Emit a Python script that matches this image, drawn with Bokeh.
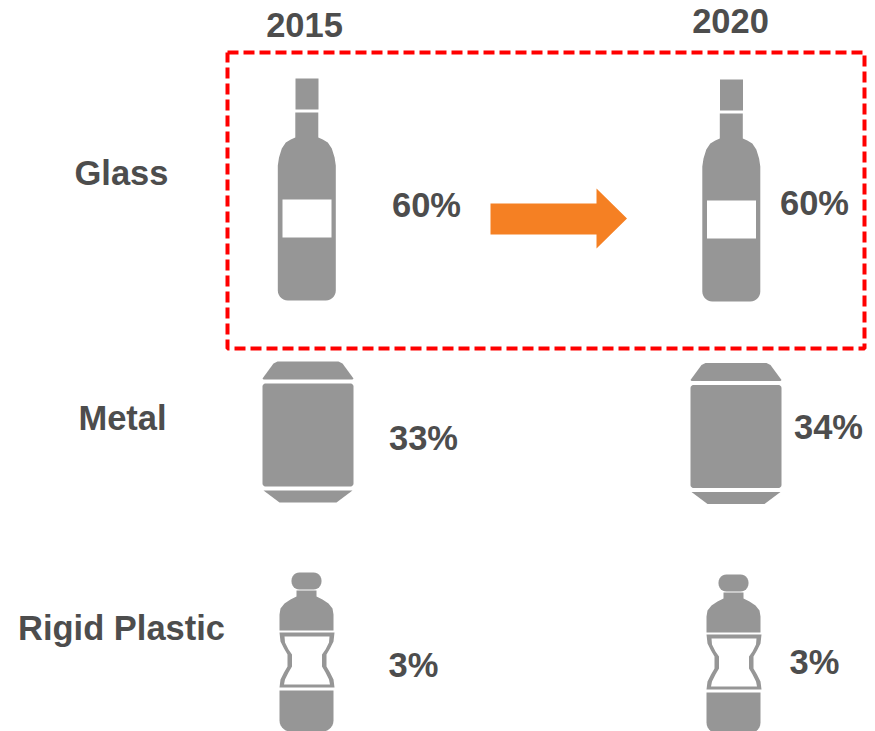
from bokeh.embed import file_html
from bokeh.models import Range1d
from bokeh.plotting import figure
from bokeh.resources import INLINE
from bokeh.core.properties import value
import numpy as np

years = ["2015", "2020"]
materials = ["Glass", "Metal", "Rigid Plastic"]
share_2015 = [60, 33, 3]
share_2020 = [60, 34, 3]

GREY = "#969696"
TEXT = "#4d4d4d"
FONT = value("Liberation Sans")

p = figure(width=875, height=731, output_backend="svg", toolbar_location=None,
           x_range=Range1d(0, 875), y_range=Range1d(731, 0),
           x_axis_location=None, y_axis_location=None, min_border=0,
           outline_line_color=None, background_fill_color="white")
p.grid.visible = False


def arc(cx, cy, r, a0, a1, n=10):
    t = np.radians(np.linspace(a0, a1, n))
    return list(cx + r * np.cos(t)), list(cy + r * np.sin(t))


def shape(xs, ys, dx, dy, color=GREY):
    p.patch([x + dx for x in xs], [y + dy for y in ys],
            fill_color=color, line_color=None)


def mirrored(cx, profile, dx, dy, color=GREY):
    # Closed outline symmetric about cx, from (y, half-width) pairs listed top to bottom
    xs = [cx + w for _, w in profile] + [cx - w for _, w in reversed(profile)]
    ys = [y for y, _ in profile] + [y for y, _ in reversed(profile)]
    shape(xs, ys, dx, dy, color)


def rounded(x0, y0, x1, y1, r, dx, dy):
    xs, ys = [], []
    for cx, cy, a0 in [(x1 - r, y0 + r, -90), (x1 - r, y1 - r, 0),
                       (x0 + r, y1 - r, 90), (x0 + r, y0 + r, 180)]:
        ax, ay = arc(cx, cy, r, a0, a0 + 90, 7)
        xs += ax
        ys += ay
    shape(xs, ys, dx, dy)


def bottle(dx, dy):
    # Cap and neck, then the body with a curved shoulder and rounded base
    shape([295, 318, 318, 295], [78, 78, 109, 109], dx, dy)
    profile = [(112, 11.5), (137, 11.5), (139, 16), (142, 21), (148, 25),
               (157, 27.8), (165, 29), (172, 29)]
    t = np.radians(np.linspace(0, 90, 8))
    profile += [(290 + 10 * np.sin(a), 19 + 10 * np.cos(a)) for a in t]
    mirrored(306.3, profile, dx, dy)
    shape([282, 331, 331, 282], [199, 199, 237, 237], dx, dy, "white")


def can(dx, dy):
    # Lid, body and base of a beverage can
    shape([277, 338, 342, 353, 352, 263, 262, 273],
          [361, 361, 363, 378, 379, 379, 378, 363], dx, dy)
    rounded(262, 383, 353, 486, 3, dx, dy)
    shape([263, 352, 340, 336, 279, 275],
          [490, 490, 499, 502, 502, 499], dx, dy)


def plastic(dx, dy):
    rounded(291, 572, 321, 589, 8, dx, dy)
    # Neck and shoulder
    mirrored(306, [(590, 10), (596, 10), (599, 16), (603, 22), (608, 26),
                   (614, 27), (630, 27)], dx, dy)
    # Waisted grip as a frame around a white centre
    mirrored(306.5, [(632, 27.5), (641, 26.5), (648, 23), (654, 19.5), (666, 19.5),
                     (672, 23), (679, 26.5), (687, 27.5)], dx, dy)
    mirrored(306.5, [(636, 22.5), (642, 22), (649, 18.5), (654, 15), (666, 15),
                     (672, 18.5), (679, 22), (684, 23)], dx, dy, "white")
    # Lower body with rounded base
    t = np.radians(np.linspace(0, 90, 8))
    mirrored(306, [(690, 27)] + [(720 + 11 * np.sin(a), 16 + 11 * np.cos(a)) for a in t],
             dx, dy)


bottle(0, 0)
bottle(424.5, 1)
can(0, 0)
can(428, 1.5)
plastic(0, 0)
plastic(427, 2)

# Highlight around the glass row
p.line([227, 864, 864, 227, 227], [52, 52, 348, 348, 52],
       line_color="#ff0000", line_width=4, line_dash="11 5")

# Arrow from 2015 to 2020
p.patch([490, 596, 596, 626.5, 596, 596, 490], [203, 203, 188, 218, 248, 234, 234],
        fill_color="#f58023", line_color=None)


def label(x, y, s):
    p.text([x], [y], text=[s], text_font=FONT, text_font_style="bold",
           text_font_size="34.5px", text_color=TEXT, text_align="center",
           text_baseline="middle")


label(304, 24, years[0])
label(730, 20, years[1])
for name, x, y in zip(materials, [121, 122, 121], [172, 417, 627]):
    label(x, y, name)
for v, x, y in zip(share_2015, [426, 423, 413], [204, 437, 664]):
    label(x, y, f"{v}%")
for v, x, y in zip(share_2020, [814, 828, 814], [202, 426, 661]):
    label(x, y, f"{v}%")

open("out.html", "w").write(file_html(p, INLINE))
